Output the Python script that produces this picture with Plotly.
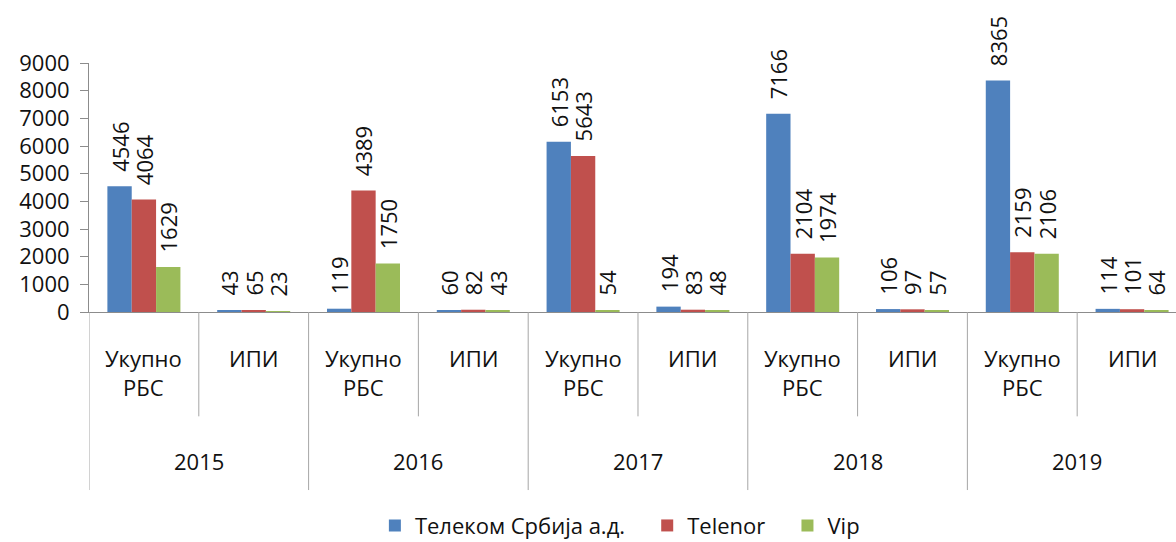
import plotly.graph_objects as go

years = ["2015", "2016", "2017", "2018", "2019"]
subcats = ["Укупно<br>РБС", "ИПИ"]
series_names = ["Телеком Србија а.д.", "Telenor", "Vip"]
colors = ["#4F81BD", "#C0504D", "#9BBB59"]

# values per (year, subcategory), in order 2015 Укупно, 2015 ИПИ, 2016 Укупно, ...
telekom = [4546, 43, 119, 60, 6153, 194, 7166, 106, 8365, 114]
telenor = [4064, 65, 4389, 82, 5643, 83, 2104, 97, 2159, 101]
vip = [1629, 23, 1750, 43, 54, 48, 1974, 57, 2106, 64]
values = [telekom, telenor, vip]

FONT = "Open Sans"
AXIS_GRAY = "#8C8C8C"
x_pos = list(range(len(years) * len(subcats)))

fig = go.Figure()
for name, col, vals in zip(series_names, colors, values):
    fig.add_trace(go.Bar(
        x=x_pos,
        y=vals,
        name=name + "\u00a0\u00a0\u00a0",
        marker=dict(color=col, line=dict(width=0)),
        text=vals,
        texttemplate="\u00a0\u00a0%{y}",
        textposition="outside",
        textangle=-90,
        constraintext="none",
        cliponaxis=False,
        textfont=dict(family=FONT, size=22, color="#111111"),
    ))

shapes = []
annotations = []
n_sub = len(subcats)
# category separators below the axis: short between sub-categories, long between years
for i in range(len(x_pos) + 1):
    xb = i - 0.5
    long_line = (i % n_sub == 0)
    shapes.append(dict(
        type="line", xref="x", yref="paper",
        x0=xb, x1=xb, y0=0, y1=(-0.715 if long_line else -0.419),
        line=dict(color="#A6A6A6", width=1),
    ))

for yi, yr in enumerate(years):
    for si, sc in enumerate(subcats):
        xi = yi * n_sub + si
        annotations.append(dict(
            x=xi, y=0, xref="x", yref="paper",
            text=sc, showarrow=False,
            xanchor="center", yanchor="top", yshift=-29,
            font=dict(family=FONT, size=22, color="#111111"),
        ))
    annotations.append(dict(
        x=yi * n_sub + (n_sub - 1) / 2, y=0, xref="x", yref="paper",
        text=yr, showarrow=False,
        xanchor="center", yanchor="middle", yshift=-149,
        font=dict(family=FONT, size=22, color="#111111"),
    ))

fig.update_layout(
    width=1176, height=542,
    margin=dict(l=89, r=0, t=62.5, b=229.5, autoexpand=False),
    paper_bgcolor="white", plot_bgcolor="white",
    barmode="group", bargap=0.335, bargroupgap=0,
    font=dict(family=FONT, color="#111111"),
    shapes=shapes,
    annotations=annotations,
    showlegend=True,
    legend=dict(
        orientation="h", x=0.263, xanchor="left",
        y=-0.858, yanchor="middle",
        font=dict(family=FONT, size=22, color="#111111"),
        itemwidth=30, traceorder="normal",
    ),
    xaxis=dict(
        range=[-0.5, 9.4], showticklabels=False, ticks="",
        showline=True, linecolor=AXIS_GRAY, linewidth=1,
        showgrid=False, zeroline=False, fixedrange=True,
    ),
    yaxis=dict(
        range=[0, 9000], dtick=1000, tick0=0,
        ticks="outside", ticklen=8, tickcolor=AXIS_GRAY,
        showline=True, linecolor=AXIS_GRAY, linewidth=1,
        showgrid=False, zeroline=False,
        tickfont=dict(family=FONT, size=22, color="#111111"),
        ticklabelstandoff=6,
    ),
)

fig.write_html("out.html")
